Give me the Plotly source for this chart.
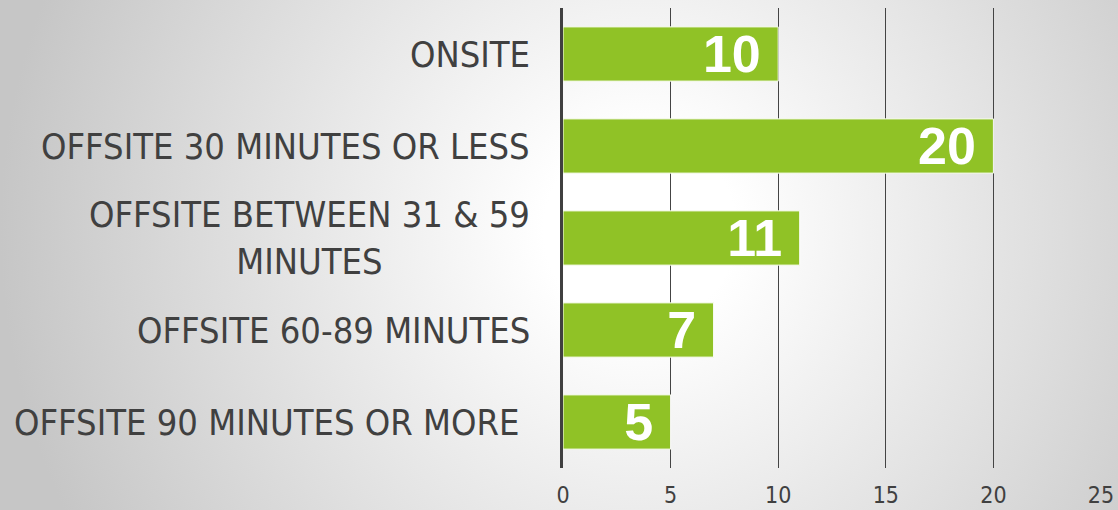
import plotly.graph_objects as go
import base64

categories = ["ONSITE", "OFFSITE 30 MINUTES OR LESS", "OFFSITE BETWEEN 31 & 59<br>MINUTES",
              "OFFSITE 60-89 MINUTES", "OFFSITE 90 MINUTES OR MORE "]
values = [10, 20, 11, 7, 5]
x_ticks = [0, 5, 10, 15, 20, 25]

W, H = 1118, 510
PW, PH = 538, 460
LABEL_FONT = "DejaVu Sans Condensed, Open Sans, sans-serif"

BW, BH = W + 60, H + 60
svg = f'''<svg xmlns="http://www.w3.org/2000/svg" width="{BW}" height="{BH}" viewBox="-30 -30 {BW} {BH}" preserveAspectRatio="none">
<defs><radialGradient id="g" gradientUnits="userSpaceOnUse" cx="640" cy="230" r="640">
<stop offset="0" stop-color="#ffffff"/><stop offset="0.15" stop-color="#ffffff"/>
<stop offset="1" stop-color="#c6c6c6"/></radialGradient></defs>
<rect x="-30" y="-30" width="{BW}" height="{BH}" fill="url(#g)"/></svg>'''
bg = "data:image/svg+xml;base64," + base64.b64encode(svg.encode()).decode()

fig = go.Figure()
fig.add_trace(go.Bar(
    x=values, y=categories, orientation="h",
    marker=dict(color="#90C226", line=dict(color="white", width=1)),
    text=[f"{v}\u00a0" for v in values], textposition="inside", insidetextanchor="end",
    textangle=0, constraintext="none",
    textfont=dict(family="Liberation Sans, Arial, sans-serif", size=52, color="white", weight="bold"),
    cliponaxis=False, hoverinfo="skip",
))

for c in categories:
    label = c[:-1] + "\u00a0" if c.endswith(" ") else c
    fig.add_annotation(xref="paper", yref="y", x=0, y=c, xshift=-31, xanchor="right",
                       yanchor="middle", align="center", text=label, showarrow=False,
                       font=dict(family=LABEL_FONT, size=36, color="#404040"))

fig.update_layout(
    width=W, height=H, margin=dict(l=563, r=17, t=8, b=42),
    paper_bgcolor="#d0d0d0", plot_bgcolor="rgba(0,0,0,0)",
    bargap=0.41, showlegend=False,
    images=[dict(source=bg, xref="paper", yref="paper", x=-(563 + 30) / PW, y=1 + (8 + 30) / PH,
                 sizex=BW / PW, sizey=BH / PH, xanchor="left", yanchor="top",
                 sizing="stretch", layer="below")],
    xaxis=dict(range=[0, 25], tickvals=x_ticks, showgrid=True, gridcolor="#444444", gridwidth=1,
               zeroline=False, showline=False, ticks="", ticklabelstandoff=11, automargin=False,
               tickfont=dict(family=LABEL_FONT, size=23, color="#404040"), fixedrange=True),
    yaxis=dict(autorange=False, range=[4.5, -0.5], type="category", showticklabels=False,
               showgrid=False, zeroline=False, showline=True, linecolor="#404040", linewidth=3,
               ticks="", fixedrange=True, automargin=False),
)

fig.write_html("out.html")
